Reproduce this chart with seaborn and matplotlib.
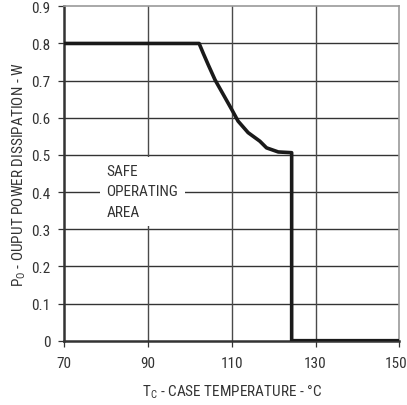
"""
Safe operating area: output power dissipation vs case temperature
"""

import matplotlib
matplotlib.use("Agg")
import matplotlib.pyplot as plt
import matplotlib.transforms as mtransforms
from matplotlib import font_manager
import seaborn as sns

sns.set_theme(style="white")

# ---------------------------------------------
# Data
# ---------------------------------------------

case_temp = [70, 102.2, 103.2, 104.4, 106.0, 108.0, 110.0, 111.5,
             113.9, 116.7, 118.3, 121.1, 124.3, 124.3, 150]
power_w = [0.8, 0.8, 0.773, 0.742, 0.702, 0.662, 0.622, 0.591,
           0.560, 0.537, 0.519, 0.508, 0.506, 0.0, 0.0]

x_ticks = [70, 90, 110, 130, 150]
y_ticks = [0, 0.1, 0.2, 0.3, 0.4, 0.5, 0.6, 0.7, 0.8, 0.9]
y_tick_labels = ["0", "0.1", "0.2", "0.3", "0.4", "0.5", "0.6", "0.7", "0.8", "0.9"]

area_text = "SAFE\nOPERATING\nAREA"

# ---------------------------------------------
# Font: condensed look if available
# ---------------------------------------------

names = {f.name for f in font_manager.fontManager.ttflist}
narrow = [n for n in ["Liberation Sans Narrow", "Roboto Condensed",
                      "Open Sans Condensed", "Arial Narrow"] if n in names]
if narrow:
    family = [narrow[0], "DejaVu Sans"]
    fsize = 11
else:
    family = ["Liberation Sans", "DejaVu Sans"]
    fsize = 10
plt.rcParams["font.family"] = family
plt.rcParams["mathtext.fontset"] = "custom"
plt.rcParams["mathtext.rm"] = family[0]

text_color = "#333333"

# ---------------------------------------------
# Plot
# ---------------------------------------------

fig = plt.figure(figsize=(4.07, 4.06), dpi=100)
ax = fig.add_axes([0.158, 0.1584, 0.823, 0.8236])

sns.lineplot(
    x=case_temp, y=power_w, ax=ax, sort=False, estimator=None,
    color="#1a1a1a", linewidth=2.6, zorder=5,
)

ax.set_xlim(70, 150)
ax.set_ylim(0, 0.9)
ax.set_xticks(x_ticks)
ax.set_yticks(y_ticks)
ax.set_yticklabels(y_tick_labels)

# grid
for yv in y_ticks[1:-1]:
    ax.axhline(yv, color="#333333", linewidth=1.0, zorder=1)
for xv in x_ticks[1:-1]:
    ax.axvline(xv, color="#4a4a4a", linewidth=1.0, zorder=1)

# spines
for side in ["left", "bottom"]:
    ax.spines[side].set_color("#333333")
    ax.spines[side].set_linewidth(1.8)
for side in ["top", "right"]:
    ax.spines[side].set_color("#999999")
    ax.spines[side].set_linewidth(1.2)

ax.tick_params(axis="both", direction="out", length=4, width=0.9,
               color="#333333", labelsize=fsize, labelcolor=text_color,
               left=True, bottom=True)
ax.tick_params(axis="y", pad=6)
ax.tick_params(axis="x", pad=7)

# keep the last x label inside the picture
last = ax.get_xticklabels()[-1]
last.set_transform(last.get_transform()
                   + mtransforms.ScaledTranslation(-0.03, 0, fig.dpi_scale_trans))

ax.text(
    80.1, 0.402, area_text, ha="left", va="center", multialignment="left",
    fontsize=fsize, color=text_color, linespacing=1.6, zorder=3,
    bbox=dict(boxstyle="square,pad=0.45", facecolor="white", edgecolor="none"),
)

ax.set_xlabel(r"T$_\mathregular{C}$ - CASE TEMPERATURE - °C",
              fontsize=fsize, color=text_color, labelpad=9)
ax.set_ylabel(r"P$_\mathregular{O}$ - OUPUT POWER DISSIPATION - W",
              fontsize=fsize, color=text_color, labelpad=2)

fig.savefig("out.png", dpi=100)
plt.close(fig)
